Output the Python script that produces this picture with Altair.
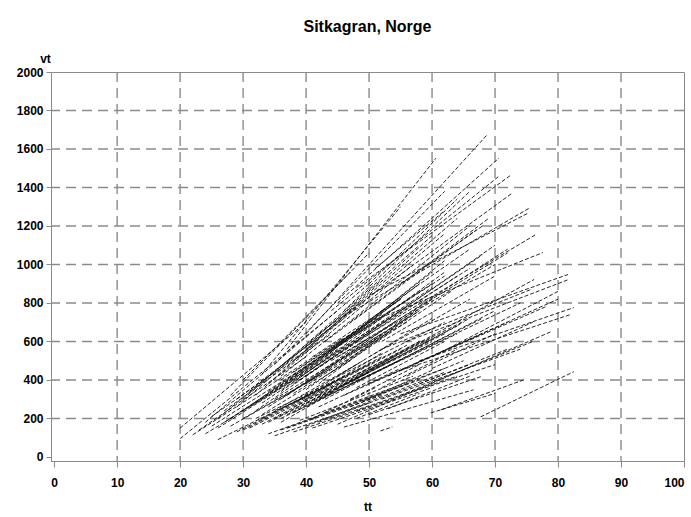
import altair as alt
import pandas as pd

# Each stand series: start (t_start, v_start) -> end (t_end, v_end)
t_start = [20, 30, 28, 33, 37, 40, 35, 45, 44, 48, 46, 50, 42, 46, 50, 20, 24, 30, 26, 32,
           36, 40, 38, 34, 29, 43, 47, 22, 25, 30, 33, 36, 38, 40, 44, 48, 50, 28, 31, 35,
           39, 41, 45, 27, 32, 37, 42, 46, 34, 40, 26, 30, 33, 35, 38, 40, 43, 47, 50, 52,
           55, 56, 58, 55, 36, 42, 45, 38, 44, 48, 34, 31, 29, 46, 50, 53, 60, 57, 34, 36,
           40, 42, 45, 46, 61.4, 67.7, 51.8, 59.8, 38, 41, 44, 48, 52, 55, 50, 35, 37, 39, 43, 47,
           49, 32, 35, 37, 39, 41, 43, 36, 40, 44, 33, 38, 42, 23, 25, 27, 29, 31, 24, 26,
           36, 40, 44, 38, 42, 46, 48, 32, 35, 40, 45, 50, 52, 54, 48, 44, 41, 38, 36, 34,
           30, 28, 33, 37, 42, 47, 52, 56, 60, 43, 39, 46, 52, 55, 51, 36, 41, 48, 53, 58]
v_start = [150, 400, 320, 430, 560, 640, 480, 800, 760, 880, 760, 900, 640, 730, 840, 95, 180, 300, 200, 320,
           420, 560, 500, 380, 260, 600, 700, 115, 160, 240, 280, 340, 380, 420, 500, 600, 700, 200, 260, 300,
           400, 460, 520, 180, 240, 320, 380, 480, 260, 350, 90, 140, 170, 200, 230, 260, 300, 380, 450, 560,
           640, 600, 500, 450, 250, 320, 360, 280, 400, 430, 180, 150, 130, 320, 380, 420, 520, 480, 120, 140,
           160, 180, 170, 155, 245, 208, 135, 229, 130, 150, 200, 240, 300, 320, 220, 110, 150, 190, 230, 260,
           290, 280, 340, 380, 420, 480, 520, 300, 380, 440, 220, 330, 420, 140, 210, 240, 300, 340, 120, 150,
           200, 280, 330, 260, 300, 380, 360, 200, 240, 300, 420, 520, 600, 700, 640, 560, 520, 440, 400, 340,
           200, 160, 200, 220, 260, 300, 360, 420, 460, 460, 300, 600, 760, 900, 980, 180, 200, 200, 250, 380]
t_end = [40, 47, 50, 55, 60.6, 68.7, 62, 70.6, 70.6, 72.5, 66, 64, 72.7, 75.4, 75.2, 45, 50, 58, 48, 60,
         66, 64, 62, 57, 52, 67, 69, 46, 52, 55, 60, 62, 68, 70, 72, 76.5, 77.6, 50, 56, 58,
         64, 66, 70, 45, 48, 54, 60, 63, 52, 58, 50, 55, 58, 62, 65, 68, 70, 74, 76.2, 75.7,
         81.6, 81.7, 82.5, 82, 56, 60, 64, 52, 62, 66, 50, 46, 44, 68, 72, 78, 80, 80, 56, 58,
         62, 66, 78.9, 66.6, 74.6, 82.5, 53.7, 70, 54, 60, 64, 70, 74, 76, 68, 50, 52, 57, 62, 65,
         60, 50, 52, 55, 58, 60, 62, 50, 54, 58, 47, 53, 56, 40, 42, 44, 46, 48, 38, 41,
         56, 60, 64, 50, 54, 58, 62, 46, 48, 52, 60, 66, 70, 72, 62, 58, 55, 52, 49, 46,
         44, 42, 45, 50, 55, 58, 64, 70, 76, 56, 49, 60, 66, 68, 62, 44, 51, 58, 66, 72]
v_end = [700, 960, 1060, 1300, 1552, 1672, 1380, 1552, 1458, 1464, 1380, 1340, 1370, 1292, 1266, 760, 900, 1100, 800, 1150,
         1200, 1240, 1160, 1000, 920, 1180, 1240, 620, 720, 820, 880, 960, 1050, 1100, 1060, 1156, 1062, 680, 780, 760,
         940, 980, 1000, 560, 600, 700, 820, 860, 640, 760, 480, 560, 600, 640, 700, 720, 760, 800, 922, 870,
         948, 922, 776, 740, 580, 620, 680, 520, 700, 720, 440, 400, 380, 640, 700, 780, 860, 820, 380, 400,
         440, 480, 651, 349, 401, 443, 156, 330, 300, 360, 420, 480, 560, 600, 420, 280, 320, 420, 460, 500,
         450, 700, 760, 820, 900, 960, 1020, 620, 700, 780, 500, 640, 720, 520, 600, 640, 720, 780, 400, 460,
         520, 600, 640, 460, 520, 600, 600, 420, 480, 540, 720, 820, 940, 1080, 940, 860, 820, 740, 680, 600,
         460, 420, 400, 440, 460, 480, 560, 640, 700, 700, 500, 900, 1080, 1200, 1280, 330, 360, 330, 420, 560]

x_ticks = [0, 10, 20, 30, 40, 50, 60, 70, 80, 90, 100]
y_ticks = [0, 200, 400, 600, 800, 1000, 1200, 1400, 1600, 1800, 2000]
x_grid = [10, 20, 30, 40, 50, 60, 70, 80, 90]
y_grid = [200, 400, 600, 800, 1000, 1200, 1400, 1600, 1800]

rows = []
for i, (a, b, c, d) in enumerate(zip(t_start, v_start, t_end, v_end)):
    rows.append({"id": i, "tt": a, "vt": b, "k": 0})
    rows.append({"id": i, "tt": c, "vt": d, "k": 1})
df = pd.DataFrame(rows)

FONT = "Liberation Sans"
GRID = "#8a8a8a"

xscale = alt.Scale(domain=[-0.5, 100], nice=False, zero=False)
yscale = alt.Scale(domain=[-21, 2000], nice=False, zero=False)

xaxis = alt.Axis(values=x_ticks, title="tt", grid=False, format="d",
                 domainColor=GRID, tickColor=GRID, tickSize=6,
                 labelFont=FONT, labelFontSize=12, labelFontWeight="bold", labelColor="black",
                 labelPadding=10,
                 titleFont=FONT, titleFontSize=12, titleFontWeight="bold", titleColor="black",
                 titleY=49, titleBaseline="alphabetic")
yaxis = alt.Axis(values=y_ticks, title="vt", grid=False, format="d",
                 domainColor=GRID, tickColor=GRID, tickSize=5,
                 labelFont=FONT, labelFontSize=12, labelFontWeight="bold", labelColor="black",
                 labelPadding=3,
                 titleFont=FONT, titleFontSize=12, titleFontWeight="bold", titleColor="black",
                 titleAngle=0, titleX=-6, titleY=-10, titleAlign="center", titleBaseline="alphabetic")

gx = alt.Chart(pd.DataFrame({"g": x_grid})).mark_rule(
    color=GRID, strokeWidth=1.4, strokeDash=[10, 6]
).encode(x=alt.X("g:Q", scale=xscale, axis=xaxis))

gy = alt.Chart(pd.DataFrame({"g": y_grid})).mark_rule(
    color=GRID, strokeWidth=1.4, strokeDash=[10, 6]
).encode(y=alt.Y("g:Q", scale=yscale, axis=yaxis))

lines = alt.Chart(df).mark_line(
    color="#111111", strokeWidth=1.0, strokeDash=[4, 2], opacity=0.9
).encode(
    x=alt.X("tt:Q", scale=xscale, axis=xaxis),
    y=alt.Y("vt:Q", scale=yscale, axis=yaxis),
    detail="id:N",
    order="k:Q",
)

chart = alt.layer(gx, gy, lines).properties(
    width=633, height=389,
    padding={"left": 51, "top": 72, "right": 7, "bottom": 56},
    autosize="none",
    title=alt.TitleParams("Sitkagran, Norge", font=FONT, fontSize=16, fontWeight="bold",
                          color="black", anchor="middle", frame="group", offset=4,
                          baseline="alphabetic"),
).configure_view(stroke=GRID, strokeWidth=1)

chart.save("out.html", embed_options={"renderer": "svg", "actions": False})
